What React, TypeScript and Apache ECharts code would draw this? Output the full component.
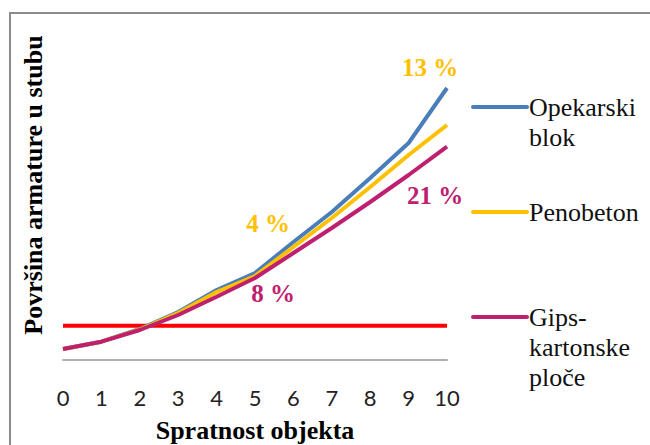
import React, { useEffect, useRef } from 'react';
import * as echarts from 'echarts';

const floors = [0, 1, 2, 3, 4, 5, 6, 7, 8, 9, 10];
const opekarski = [1.1, 1.83, 3.1, 4.8, 7.0, 8.7, 11.8, 14.8, 18.2, 21.7, 27.2];
const penobeton = [1.1, 1.83, 3.05, 4.7, 6.8, 8.4, 11.3, 14.2, 17.3, 20.5, 23.5];
const gips = [1.1, 1.83, 3.0, 4.5, 6.33, 8.2, 10.7, 13.2, 15.8, 18.5, 21.33];
const limitValue = 3.43;

const seriesNames = ['Opekarski blok', 'Penobeton', 'Gips-kartonske ploče'];
const legendLabels = ['Opekarski\nblok', 'Penobeton', 'Gips-\nkartonske\nploče'];
const colors = ['#4A7EBB', '#FFC000', '#BE2070'];
const limitColor = '#FF0000';

// annotations: [label, floor, value]
const penobetonNotes: [string, number, number][] = [
  ['13 %', 9.56, 29.3],
  ['4 %', 5.34, 13.7],
];
const gipsNotes: [string, number, number][] = [
  ['21 %', 9.69, 16.5],
  ['8 %', 5.47, 6.7],
];

const serif = '"Liberation Serif", "Times New Roman", serif';

function notes(list: [string, number, number][], color: string) {
  return {
    symbol: 'circle',
    symbolSize: 1,
    itemStyle: { color: 'rgba(0,0,0,0)' },
    label: {
      show: true,
      position: 'inside',
      formatter: '{b}',
      color,
      fontFamily: serif,
      fontWeight: 'bold',
      fontSize: 25,
    },
    data: list.map(([name, x, y]) => ({ name, coord: [x, y] })),
  };
}

export default function App() {
  const ref = useRef<HTMLDivElement>(null);
  useEffect(() => {
    if (!ref.current) return;
    const chart = echarts.init(ref.current, null, { renderer: 'svg' });
    const seriesData = [opekarski, penobeton, gips];
    const legendY = [107, 212, 317];
    const graphics: any[] = [
      {
        type: 'rect',
        shape: { x: 10, y: 13, width: 700, height: 500 },
        style: { fill: 'none', stroke: '#8C8C8C', lineWidth: 2 },
        z: -1,
      },
    ];
    legendLabels.forEach((lbl, i) => {
      graphics.push({
        type: 'line',
        shape: { x1: 473, y1: legendY[i], x2: 527, y2: legendY[i] },
        style: { stroke: colors[i], lineWidth: 4, lineCap: 'round' },
      });
      graphics.push({
        type: 'text',
        x: 529,
        y: legendY[i] - 15,
        style: {
          text: lbl,
          fill: '#111',
          font: `26px ${serif}`,
          lineHeight: 30,
          verticalAlign: 'top',
          align: 'left',
        },
      });
    });
    chart.setOption({
      animation: false,
      backgroundColor: '#fff',
      grid: {
        left: 63,
        right: 203,
        top: 10,
        bottom: 85,
        containLabel: false,
        outerBoundsMode: 'none',
      },
      xAxis: {
        type: 'value',
        min: 0,
        max: 10,
        interval: 1,
        name: 'Spratnost objekta',
        nameLocation: 'middle',
        nameGap: 57,
        nameTextStyle: { fontFamily: serif, fontWeight: 'bold', fontSize: 26, color: '#000' },
        axisLine: { show: true, lineStyle: { color: '#B0B0B0', width: 2 } },
        axisTick: { show: false },
        splitLine: { show: false },
        axisLabel: { fontFamily: 'Lato, sans-serif', fontSize: 22, color: '#222', margin: 26 },
      },
      yAxis: {
        type: 'value',
        min: 0,
        max: 35,
        name: 'Površina armature u stubu',
        nameLocation: 'middle',
        nameRotate: 90,
        nameGap: 17,
        nameTextStyle: { fontFamily: serif, fontWeight: 'bold', fontSize: 26, color: '#000' },
        axisLine: { show: false },
        axisTick: { show: false },
        axisLabel: { show: false },
        splitLine: { show: false },
      },
      graphic: graphics,
      series: [
        {
          name: 'limit',
          type: 'line',
          data: floors.map((f) => [f, limitValue]),
          showSymbol: false,
          lineStyle: { color: limitColor, width: 4 },
          itemStyle: { color: limitColor },
          z: 1,
        },
        ...seriesNames.map((name, i) => ({
          name,
          type: 'line',
          data: floors.map((f, j) => [f, seriesData[i][j]]),
          showSymbol: false,
          lineStyle: { color: colors[i], width: 4 },
          itemStyle: { color: colors[i] },
          z: 2 + i,
          markPoint: i === 1 ? notes(penobetonNotes, colors[1]) : i === 2 ? notes(gipsNotes, colors[2]) : undefined,
        })),
      ],
    });
    return () => chart.dispose();
  }, []);
  return (
    <div
      ref={ref}
      style={{ position: 'fixed', left: 0, top: 0, width: 650, height: 445, background: '#fff' }}
    />
  );
}
